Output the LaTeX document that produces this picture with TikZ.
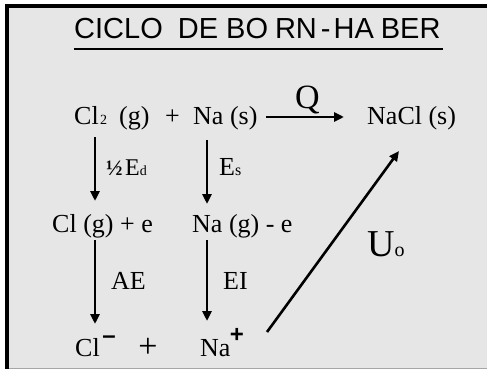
\documentclass[tikz,border=0pt]{standalone}
\usepackage{fontspec}
\setmainfont{Liberation Serif}
\newfontfamily\arialf{Liberation Sans}
\usetikzlibrary{arrows.meta}
\definecolor{bggray}{RGB}{230,230,230}
\begin{document}
\begin{tikzpicture}[x=1pt,y=-1pt,
  txt/.style={inner sep=0pt,anchor=base west,font=\fontsize{26}{30}\selectfont},
  smalltxt/.style={inner sep=0pt,anchor=base west,font=\fontsize{14}{16}\selectfont},
  arr/.style={line width=2.6pt,-{Triangle[length=10pt,width=9pt]}}]
\useasboundingbox (0,0) rectangle (487,369);
% background and frame
\fill[white] (0,0) rectangle (487,369);
\fill[bggray] (5,4) rectangle (487,369);
\fill[black] (5,4) rectangle (9,369);
\fill[black] (5,4) rectangle (487,8);
\fill[gray!70] (9,367.5) rectangle (487,369);
% title
\node[inner sep=0pt,anchor=base west] (title) at (74,38)
  {\arialf\fontsize{29}{33}\selectfont CICLO\hspace{15pt}DE BO\kern7pt RN\kern4pt-\kern3pt HA\kern7pt BER};
\draw[line width=2pt] (74,49) -- (443,49);
% row 1
\node[txt] (cl2) at (74,124) {Cl};
\node[smalltxt] (two) at (100,124) {2};
\node[txt] (g1) at (119,124) {(g)};
\node[txt] (plus1) at (165,124) {+};
\node[txt] (nas) at (193,124) {Na (s)};
\node[txt] (nacl) at (367,124) {NaCl (s)};
\node[inner sep=0pt,anchor=base west,font=\fontsize{34}{38}\selectfont] (q) at (295,108) {Q};
% row 2
\node[txt] (clg) at (52,232) {Cl (g) + e};
\node[txt] (nag) at (192,232) {Na (g) - e};
% row 3
\node[txt] (clm) at (75,356) {Cl};
\node[inner sep=0pt,font=\arialf\bfseries\fontsize{24}{26}\selectfont] (minus) at (109,340) {–};
\node[inner sep=0pt,font=\fontsize{34}{38}\selectfont] (plus3) at (148,348) {+};
\node[txt] (nap) at (200,356) {Na};
\node[inner sep=0pt,font=\arialf\bfseries\fontsize{24}{26}\selectfont] (nplus) at (237,335) {+};
% labels
\node[inner sep=0pt,anchor=base west,font=\bfseries\fontsize{22}{24}\selectfont] (half) at (106,175) {½};
\node[inner sep=0pt,anchor=base west,font=\fontsize{24}{26}\selectfont] (ed) at (125,175) {E{\fontsize{14}{16}\selectfont d}};
\node[txt] (es) at (219,175) {E{\fontsize{16}{18}\selectfont s}};
\node[txt] (ae) at (111,289) {AE};
\node[txt] (ei) at (223,289) {EI};
\node[inner sep=0pt,anchor=base west,font=\fontsize{38}{42}\selectfont] (uo) at (367,256) {U{\fontsize{20}{22}\selectfont o}};
% arrow end points
\coordinate (a1s) at (95,137);  \coordinate (a1e) at (95,201);
\coordinate (a2s) at (207,140); \coordinate (a2e) at (207,204);
\coordinate (a3s) at (95,240);  \coordinate (a3e) at (95,324);
\coordinate (a4s) at (207,240); \coordinate (a4e) at (207,321);
\coordinate (qs) at (266,117);  \coordinate (qe) at (344,117);
\coordinate (us) at (267,332);  \coordinate (ue) at (399,151);
\draw[arr] (a1s) -- (a1e);
\draw[arr] (a2s) -- (a2e);
\draw[arr] (a3s) -- (a3e);
\draw[arr] (a4s) -- (a4e);
\draw[arr] (qs) -- (qe);
\draw[arr] (us) -- (ue);
\end{tikzpicture}
\end{document}
